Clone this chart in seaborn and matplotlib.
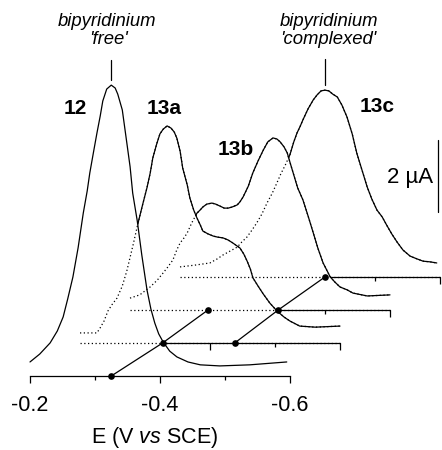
import matplotlib
matplotlib.use("Agg")
import matplotlib.pyplot as plt
import matplotlib.transforms as mtransforms
import numpy as np
import pandas as pd
import seaborn as sns

# ---------------- data (E in V vs SCE, I in uA above each trace's own baseline) ----------------
compounds = ["12", "13a", "13b", "13c"]

E_12 = [-0.200, -0.215, -0.231, -0.242, -0.251, -0.258, -0.266, -0.274, -0.282, -0.288,
        -0.292, -0.298, -0.303, -0.308, -0.312, -0.318, -0.325, -0.331, -0.335, -0.342,
        -0.349, -0.354, -0.358, -0.365, -0.372, -0.380, -0.386, -0.392, -0.398, -0.405,
        -0.415, -0.426, -0.443, -0.462, -0.492, -0.538, -0.595]
I_12 = [0.39, 0.61, 0.92, 1.25, 1.64, 2.14, 2.75, 3.56, 4.53, 5.14,
        5.64, 6.25, 6.75, 7.22, 7.64, 7.97, 8.08, 8.00, 7.83, 7.39,
        6.47, 5.81, 5.08, 4.31, 3.36, 2.39, 1.86, 1.47, 1.17, 0.94,
        0.69, 0.53, 0.39, 0.31, 0.28, 0.31, 0.39]

E_13a = [-0.200, -0.215, -0.226, -0.231, -0.237, -0.243, -0.249, -0.257, -0.265, -0.272,
         -0.282, -0.289, -0.297, -0.303, -0.308, -0.312, -0.318, -0.323, -0.328, -0.334,
         -0.340, -0.345, -0.349, -0.354, -0.358, -0.365, -0.369, -0.375, -0.380, -0.385,
         -0.389, -0.397, -0.405, -0.412, -0.420, -0.428, -0.435, -0.442, -0.446, -0.452,
         -0.457, -0.462, -0.466, -0.474, -0.482, -0.492, -0.503, -0.514, -0.523, -0.538,
         -0.562, -0.600]
I_13a = [0.28, 0.28, 0.28, 0.42, 0.61, 0.89, 1.06, 1.25, 1.58, 2.00,
         2.75, 3.31, 3.89, 4.31, 4.72, 5.14, 5.53, 5.81, 5.94, 6.03,
         5.97, 5.86, 5.69, 5.33, 4.86, 4.39, 4.03, 3.69, 3.47, 3.28,
         3.11, 3.03, 2.97, 2.94, 2.92, 2.86, 2.78, 2.69, 2.64, 2.47,
         2.28, 2.06, 1.81, 1.58, 1.36, 1.11, 0.89, 0.72, 0.61, 0.47,
         0.44, 0.47]

E_13b = [-0.200, -0.215, -0.231, -0.242, -0.251, -0.258, -0.266, -0.272, -0.277, -0.283,
         -0.288, -0.295, -0.303, -0.308, -0.312, -0.318, -0.326, -0.332, -0.338, -0.345,
         -0.351, -0.357, -0.365, -0.369, -0.374, -0.382, -0.389, -0.397, -0.405, -0.412,
         -0.420, -0.426, -0.431, -0.437, -0.442, -0.446, -0.451, -0.458, -0.466, -0.474,
         -0.482, -0.489, -0.497, -0.508, -0.515, -0.523, -0.534, -0.543, -0.565, -0.600]
I_13b = [0.33, 0.42, 0.64, 0.83, 1.03, 1.19, 1.39, 1.67, 1.86, 2.00,
         2.14, 2.42, 2.69, 2.78, 2.86, 2.94, 2.97, 2.94, 2.89, 2.83,
         2.83, 2.86, 2.92, 3.00, 3.14, 3.44, 3.81, 4.14, 4.44, 4.67,
         4.78, 4.75, 4.67, 4.53, 4.36, 4.11, 3.81, 3.39, 3.06, 2.61,
         2.14, 1.72, 1.31, 0.92, 0.78, 0.64, 0.56, 0.47, 0.39, 0.42]

E_13c = [-0.200, -0.223, -0.246, -0.257, -0.266, -0.277, -0.288, -0.295, -0.303, -0.311,
         -0.318, -0.326, -0.334, -0.342, -0.349, -0.355, -0.362, -0.369, -0.375, -0.380,
         -0.385, -0.389, -0.397, -0.405, -0.411, -0.417, -0.423, -0.429, -0.435, -0.442,
         -0.449, -0.457, -0.465, -0.472, -0.480, -0.488, -0.495, -0.503, -0.511, -0.518,
         -0.526, -0.534, -0.543, -0.554, -0.565, -0.574, -0.585, -0.595]
I_13c = [0.28, 0.33, 0.39, 0.50, 0.61, 0.72, 0.83, 0.97, 1.11, 1.31,
         1.50, 1.75, 2.06, 2.33, 2.61, 2.86, 3.11, 3.39, 3.75, 4.00,
         4.19, 4.36, 4.67, 4.92, 5.06, 5.17, 5.19, 5.17, 5.08, 5.00,
         4.78, 4.44, 3.97, 3.44, 2.97, 2.50, 2.17, 1.86, 1.67, 1.44,
         1.19, 0.97, 0.75, 0.58, 0.50, 0.44, 0.42, 0.39]

# peak-position guide points (potential, layer index)
free_E = [-0.325, -0.327, -0.320]
free_layer = [0, 1, 2]
complexed_E = [-0.438, -0.428, -0.423]
complexed_layer = [1, 2, 3]

axis_E = [-0.2, -0.6]
major_ticks = [-0.2, -0.4, -0.6]
major_labels = ["-0.2", "-0.4", "-0.6"]
minor_ticks = [-0.3, -0.5]
scale_uA = 2

# ---------------- layout constants ----------------
W, H, DPI = 4.42, 4.50, 100
PX_PER_V = 650.0
PX_PER_UA = 36.0
X0_PX = 30.0          # pixel of E=-0.2 on front axis
Y0_PX = 376.0         # pixel row of front baseline (from top)
LAYER_DX_PX, LAYER_DY_PX = 50.0, 33.0
LW = 0.9
DOT = (0, (1, 2))

dE = -LAYER_DX_PX / PX_PER_V
dI = LAYER_DY_PX / PX_PER_UA
maj_len = 7 / PX_PER_UA
min_len = 4 / PX_PER_UA

sns.set_theme(style="ticks")
plt.rcParams["font.family"] = ["Liberation Sans", "DejaVu Sans"]
plt.rcParams["mathtext.fontset"] = "custom"
plt.rcParams["mathtext.rm"] = "Liberation Sans"
plt.rcParams["mathtext.it"] = "Liberation Sans:italic"
plt.rcParams["text.color"] = "black"
plt.rcParams["axes.labelcolor"] = "black"
plt.rcParams["axes.edgecolor"] = "black"
plt.rcParams["xtick.color"] = "black"

fig = plt.figure(figsize=(W, H), dpi=DPI)
fig.patch.set_facecolor("white")
ax = fig.add_axes([0, 0, 1, 1])
ax.set_facecolor("white")

xlim = (-0.2 + X0_PX / PX_PER_V, -0.2 - (W * DPI - X0_PX) / PX_PER_V)
ylim = (-(H * DPI - Y0_PX) / PX_PER_UA, Y0_PX / PX_PER_UA)
ax.set_xlim(*xlim)
ax.set_ylim(*ylim)

def layer_tf(i):
    return mtransforms.Affine2D().translate(i * dE, i * dI) + ax.transData

# (E, layer) -> skewed position, for the guide lines joining layers
diag_tf = mtransforms.Affine2D(np.array([[1.0, dE, 0.0], [0.0, dI, 0.0], [0.0, 0.0, 1.0]])) + ax.transData

df = pd.concat([
    pd.DataFrame({"E": E_12, "I": I_12, "compound": "12"}),
    pd.DataFrame({"E": E_13a, "I": I_13a, "compound": "13a"}),
    pd.DataFrame({"E": E_13b, "I": I_13b, "compound": "13b"}),
    pd.DataFrame({"E": E_13c, "I": I_13c, "compound": "13c"}),
], ignore_index=True)

for i, c in enumerate(compounds):
    sub = df[df["compound"] == c]
    tf = layer_tf(i)
    z = 10 - 2 * i
    # opaque area under the trace hides what lies behind it
    ax.fill_between(sub["E"].to_numpy(), sub["I"].to_numpy(), 0, color="white", lw=0,
                    transform=tf, zorder=z)
    sns.lineplot(data=sub, x="E", y="I", color="black", lw=LW, estimator=None, sort=False,
                 transform=tf, zorder=z + 0.5, ax=ax)
    if i > 0:
        ax.plot(axis_E, [0, 0], color="black", lw=LW, transform=tf, zorder=z + 0.5)
        ax.vlines(major_ticks, -maj_len, 0, color="black", lw=LW, transform=tf, zorder=z + 0.5)
        ax.vlines(minor_ticks, -min_len, 0, color="black", lw=LW, transform=tf, zorder=z + 0.5)
        # hidden parts shown dotted
        sns.lineplot(data=sub, x="E", y="I", color="black", lw=LW, estimator=None, sort=False,
                     linestyle=DOT, transform=tf, zorder=20, ax=ax)
        ax.plot(axis_E, [0, 0], color="black", lw=LW, linestyle=DOT, transform=tf, zorder=20)

# guide lines through peak potentials
for Es, Ls in [(free_E, free_layer), (complexed_E, complexed_layer)]:
    sns.lineplot(x=Es, y=Ls, color="black", lw=LW, estimator=None, sort=False,
                 marker="o", markersize=4.8, markeredgewidth=0, transform=diag_tf,
                 zorder=22, ax=ax)

# front axis = real matplotlib x axis
for s in ["top", "right", "left"]:
    ax.spines[s].set_visible(False)
ax.spines["bottom"].set_position(("data", 0))
ax.spines["bottom"].set_bounds(axis_E[1], axis_E[0])
ax.spines["bottom"].set_linewidth(LW)
ax.spines["bottom"].set_color("black")
ax.spines["bottom"].set_zorder(11)
ax.xaxis.set_zorder(11)
ax.set_xticks(major_ticks)
ax.set_xticklabels(major_labels)
ax.set_xticks(minor_ticks, minor=True)
ax.tick_params(axis="x", which="major", direction="out", length=5, width=LW,
               labelsize=15.5, pad=8.5, colors="black")
ax.tick_params(axis="x", which="minor", direction="out", length=3, width=LW, colors="black")
ax.set_yticks([])
ax.set_xlabel("")
ax.set_ylabel("")
ax.set_xlim(*xlim)
ax.set_ylim(*ylim)

# scale bar
bar_E = -0.2 - (438 - X0_PX) / PX_PER_V
bar_I0 = (Y0_PX - 212) / PX_PER_UA
ax.plot([bar_E, bar_E], [bar_I0, bar_I0 + scale_uA], color="black", lw=LW, zorder=22)

# marker sticks above the two peaks
ax.plot([free_E[0], free_E[0]], [8.22, 8.78], color="black", lw=LW, zorder=22)
ax.plot([complexed_E[-1], complexed_E[-1]], [5.33, 6.06], color="black", lw=LW,
        transform=layer_tf(3), zorder=22)

def ftext(xp, yp, s, **kw):
    fig.text(xp / (W * DPI), 1 - yp / (H * DPI), s, color="black", **kw)

ftext(75, 108, "12", ha="center", va="center", fontsize=15, fontweight="bold")
ftext(164, 108, "13a", ha="center", va="center", fontsize=15, fontweight="bold")
ftext(236, 150, "13b", ha="center", va="center", fontsize=15, fontweight="bold")
ftext(377, 107, "13c", ha="center", va="center", fontsize=15, fontweight="bold")
ftext(107, 22, "bipyridinium", ha="center", va="center", fontsize=13.3, style="italic")
ftext(109, 40, "'free'", ha="center", va="center", fontsize=13.3, style="italic")
ftext(329, 22, "bipyridinium", ha="center", va="center", fontsize=13.3, style="italic")
ftext(328, 40, "'complexed'", ha="center", va="center", fontsize=13.3, style="italic")
ftext(433, 178, "2 \u00b5A", ha="right", va="center", fontsize=16)
ftext(155, 437, r"E (V $\mathit{vs}$ SCE)", ha="center", va="center", fontsize=15.5)

fig.savefig("out.png", dpi=DPI, facecolor="white")
